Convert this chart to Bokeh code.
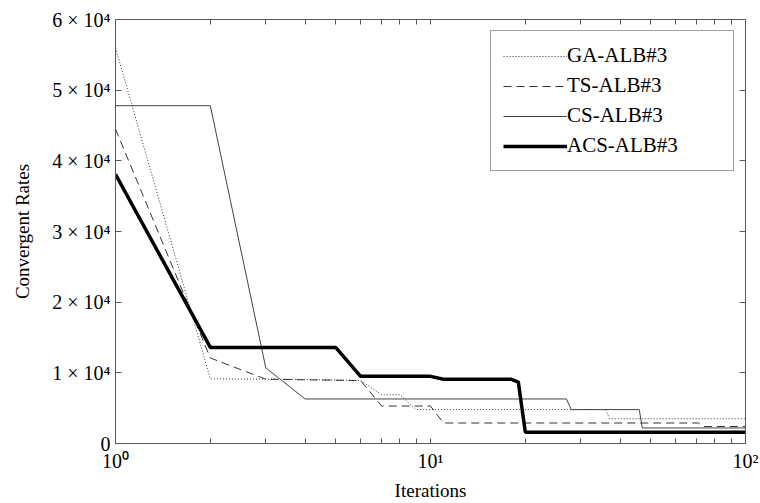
from bokeh.plotting import figure
from bokeh.models import Range1d, FixedTicker, LinearAxis, LogAxis
from bokeh.embed import file_html
from bokeh.resources import INLINE

# ---- data ----
GA_X = [1, 2, 3, 4, 5, 6, 7, 8, 9, 36, 37, 100]
GA_Y = [56000, 9150, 9100, 9050, 9000, 8900, 6900, 6900, 4800, 4800, 3500, 3500]

TS_X = [1, 2, 3, 6, 7, 10, 11, 71, 73, 100]
TS_Y = [44500, 12100, 9100, 8900, 5300, 5300, 2900, 2900, 2400, 2400]

CS_X = [1, 2, 3, 4, 27, 28, 46, 47, 100]
CS_Y = [47800, 47800, 10700, 6300, 6300, 4800, 4800, 2200, 2200]

ACS_X = [1, 2, 5, 6, 10, 11, 18, 19, 20, 100]
ACS_Y = [38100, 13600, 13600, 9500, 9500, 9100, 9100, 8700, 1600, 1600]

SERIES_NAMES = ["GA-ALB#3", "TS-ALB#3", "CS-ALB#3", "ACS-ALB#3"]

X_TICKS = [1, 10, 100]
X_TICK_LABELS = ["10\u2070", "10\u00b9", "10\u00b2"]
X_MINOR = [2, 3, 4, 5, 6, 7, 8, 9, 20, 30, 40, 50, 60, 70, 80, 90]

Y_TICKS = [0, 10000, 20000, 30000, 40000, 50000, 60000]
Y_TICK_LABELS = ["0", "1 \u00d7 10\u2074", "2 \u00d7 10\u2074", "3 \u00d7 10\u2074",
                 "4 \u00d7 10\u2074", "5 \u00d7 10\u2074", "6 \u00d7 10\u2074"]

FONT = "Liberation Serif"
AXIS_COLOR = "#5a5a5a"

p = figure(width=760, height=503, x_axis_type="log",
           x_range=Range1d(1, 100), y_range=Range1d(0, 60000),
           output_backend="svg", toolbar_location=None,
           min_border_left=115, min_border_right=15,
           min_border_top=19, min_border_bottom=60)
p.outline_line_color = None
p.xgrid.visible = False
p.ygrid.visible = False
p.background_fill_color = "white"
p.border_fill_color = "white"

# bottom axis
xa = p.xaxis[0]
xa.ticker = FixedTicker(ticks=X_TICKS, minor_ticks=X_MINOR)
xa.major_label_overrides = {t: l for t, l in zip(X_TICKS, X_TICK_LABELS)}
xa.axis_label = "Iterations"

# left axis
ya = p.yaxis[0]
ya.ticker = FixedTicker(ticks=Y_TICKS)
ya.major_label_overrides = {t: l for t, l in zip(Y_TICKS, Y_TICK_LABELS)}
ya.axis_label = "Convergent Rates"

for ax in (xa, ya):
    ax.axis_line_color = AXIS_COLOR
    ax.major_tick_line_color = AXIS_COLOR
    ax.minor_tick_line_color = AXIS_COLOR
    ax.major_tick_out = 0
    ax.minor_tick_out = 0
    ax.major_label_text_font = FONT
    ax.major_label_text_font_size = "20px"
    ax.major_label_text_color = "black"
    ax.axis_label_text_font = FONT
    ax.axis_label_text_font_size = "19px"
    ax.axis_label_text_font_style = "normal"
    ax.axis_label_text_color = "black"

xa.major_tick_in = 5
xa.minor_tick_in = 5
xa.major_label_standoff = 6
xa.axis_label_standoff = 5
ya.major_tick_in = 6
ya.minor_tick_in = 0
ya.major_label_standoff = 5
ya.axis_label_standoff = 16

# top and right box axes (ticks only, labels invisible)
top = LogAxis(ticker=FixedTicker(ticks=X_TICKS, minor_ticks=X_MINOR),
              major_label_text_font_size="1px", major_label_text_alpha=0,
              major_label_standoff=0,
              major_tick_in=5, major_tick_out=0, minor_tick_in=5, minor_tick_out=0,
              axis_line_color=AXIS_COLOR, major_tick_line_color=AXIS_COLOR,
              minor_tick_line_color=AXIS_COLOR)
p.add_layout(top, "above")
right = LinearAxis(ticker=FixedTicker(ticks=Y_TICKS),
                   major_label_text_font_size="1px", major_label_text_alpha=0,
                   major_label_standoff=0,
                   major_tick_in=6, major_tick_out=0, minor_tick_in=0, minor_tick_out=0,
                   axis_line_color=AXIS_COLOR, major_tick_line_color=AXIS_COLOR,
                   minor_tick_line_color=AXIS_COLOR)
p.add_layout(right, "right")

# series
p.line(GA_X, GA_Y, line_color="#333333", line_width=1, line_dash="1 2",
       legend_label=SERIES_NAMES[0])
p.line(TS_X, TS_Y, line_color="#333333", line_width=1, line_dash="8 5",
       legend_label=SERIES_NAMES[1])
p.line(CS_X, CS_Y, line_color="#444444", line_width=1,
       legend_label=SERIES_NAMES[2])
p.line(ACS_X, ACS_Y, line_color="black", line_width=3.5,
       legend_label=SERIES_NAMES[3])

lg = p.legend[0]
lg.location = "top_right"
lg.margin = 11
lg.border_line_color = "#444444"
lg.border_line_width = 1
lg.background_fill_color = "white"
lg.background_fill_alpha = 1
lg.padding = 12
lg.spacing = 5
lg.glyph_width = 64
lg.glyph_height = 22
lg.label_height = 22
lg.label_width = 154
lg.label_standoff = 0
lg.label_text_font = FONT
lg.label_text_font_size = "21px"
lg.label_text_color = "black"

open("out.html", "w").write(file_html(p, INLINE))
